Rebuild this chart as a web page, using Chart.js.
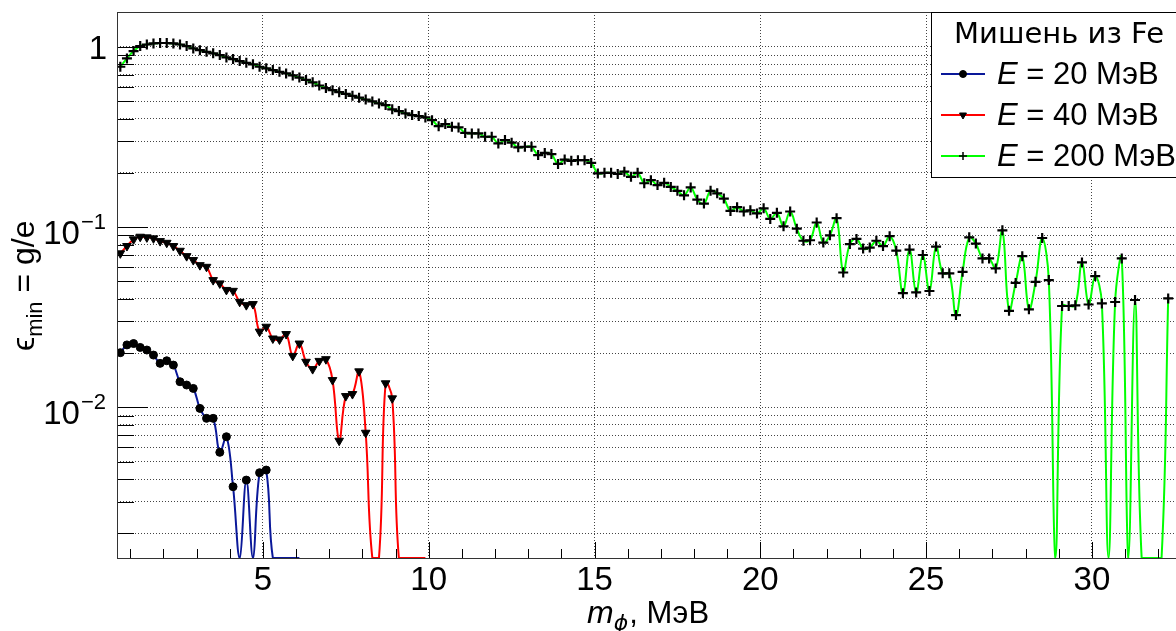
<!DOCTYPE html>
<html>
<head>
<meta charset="utf-8">
<script src="https://cdn.jsdelivr.net/npm/chart.js@4.4.1/dist/chart.umd.min.js"></script>
<style>
  html, body { margin: 0; padding: 0; background: #fff; overflow: hidden; }
  #chart { display: block; }
</style>
</head>
<body>
<canvas id="chart" width="1200" height="631"></canvas>
<script>
// mass grid, MeV (markers every 0.2 MeV)
const masses = [
  0.7, 0.9, 1.1, 1.3, 1.5, 1.7, 1.9, 2.1, 2.3, 2.5, 2.7, 2.9, 3.1, 3.3, 3.5, 3.7, 3.9, 4.1, 4.3, 4.5,
  4.7, 4.9, 5.1, 5.3, 5.5, 5.7, 5.9, 6.1, 6.3, 6.5, 6.7, 6.9, 7.1, 7.3, 7.5, 7.7, 7.9, 8.1, 8.3, 8.5,
  8.7, 8.9, 9.1, 9.3, 9.5, 9.7, 9.9, 10.1, 10.3, 10.5, 10.7, 10.9, 11.1, 11.3, 11.5, 11.7, 11.9, 12.1, 12.3, 12.5,
  12.7, 12.9, 13.1, 13.3, 13.5, 13.7, 13.9, 14.1, 14.3, 14.5, 14.7, 14.9, 15.1, 15.3, 15.5, 15.7, 15.9, 16.1, 16.3, 16.5,
  16.7, 16.9, 17.1, 17.3, 17.5, 17.7, 17.9, 18.1, 18.3, 18.5, 18.7, 18.9, 19.1, 19.3, 19.5, 19.7, 19.9, 20.1, 20.3, 20.5,
  20.7, 20.9, 21.1, 21.3, 21.5, 21.7, 21.9, 22.1, 22.3, 22.5, 22.7, 22.9, 23.1, 23.3, 23.5, 23.7, 23.9, 24.1, 24.3, 24.5,
  24.7, 24.9, 25.1, 25.3, 25.5, 25.7, 25.9, 26.1, 26.3, 26.5, 26.7, 26.9, 27.1, 27.3, 27.5, 27.7, 27.9, 28.1, 28.3, 28.5,
  28.7, 28.9, 29.1, 29.3, 29.5, 29.7, 29.9, 30.1, 30.3, 30.5, 30.7, 30.9, 31.1, 31.3, 31.5, 31.7, 31.9, 32.1, 32.3
];

// eps_min values, 0 = not positive (no marker, curve drops out of the frame)
const eps20 = [
  0.0201, 0.0222, 0.0226, 0.0215, 0.0208, 0.0195, 0.01754, 0.01813, 0.01716, 0.01387,
  0.0133, 0.01274, 0.00987, 0.00869, 0.00869, 0.00563, 0.00687, 0.00363, 0, 0.00395,
  0, 0.00434, 0.00449, 0, 0, 0, 0, 0
];
const eps40 = [
  0.0715, 0.0785, 0.0855, 0.0884, 0.0877, 0.0866, 0.0836, 0.0818, 0.0785, 0.0739,
  0.069, 0.0656, 0.0615, 0.0602, 0.0508, 0.0487, 0.0448, 0.0443, 0.0385, 0.0369,
  0.0374, 0.0263, 0.028, 0.0241, 0.0238, 0.0255, 0.0193, 0.0226, 0.0179, 0.0163,
  0.0181, 0.0185, 0.01417, 0.00653, 0.01155, 0.01185, 0.01584, 0.00723, 0, 0,
  0.0136, 0.01122, 0, 0, 0, 0, 0
];
const eps200 = [
  0.775, 0.862, 0.947, 1.01, 1.03, 1.044, 1.05, 1.05, 1.044, 1.03,
  1.01, 0.98, 0.958, 0.938, 0.92, 0.9, 0.873, 0.855, 0.833, 0.815,
  0.8, 0.775, 0.76, 0.743, 0.727, 0.712, 0.694, 0.675, 0.655, 0.635,
  0.61, 0.59, 0.575, 0.56, 0.548, 0.535, 0.522, 0.51, 0.498, 0.485,
  0.475, 0.45, 0.44, 0.427, 0.418, 0.413, 0.406, 0.392, 0.363, 0.373,
  0.36, 0.357, 0.333, 0.331, 0.331, 0.317, 0.317, 0.291, 0.304, 0.294,
  0.277, 0.279, 0.279, 0.251, 0.258, 0.254, 0.224, 0.237, 0.233, 0.235,
  0.235, 0.227, 0.1985, 0.2, 0.2, 0.197, 0.203, 0.19, 0.2, 0.175,
  0.182, 0.171, 0.176, 0.167, 0.159, 0.15, 0.166, 0.142, 0.135, 0.159,
  0.154, 0.144, 0.123, 0.129, 0.122, 0.124, 0.119, 0.127, 0.111, 0.12,
  0.101, 0.122, 0.098, 0.084, 0.0845, 0.106, 0.082, 0.09, 0.112, 0.056,
  0.0805, 0.086, 0.076, 0.077, 0.084, 0.0785, 0.089, 0.074, 0.043, 0.075,
  0.0434, 0.07, 0.0442, 0.078, 0.0554, 0.0554, 0.0325, 0.0565, 0.0877, 0.081,
  0.067, 0.067, 0.059, 0.096, 0.0343, 0.049, 0.069, 0.035, 0.0497, 0.087,
  0.0508, 0, 0.0365, 0.0365, 0.0368, 0.0637, 0.0372, 0.0535, 0.0377, 0,
  0.0384, 0.067, 0, 0.0394, 0, 0, 0, 0, 0.0402
];

const seriesNames = ['20 МэВ', '40 МэВ', '200 МэВ'];
const seriesColors = ['#0a1899', '#ff0000', '#00ff00'];
const seriesMarkers = ['circle', 'triangle', 'cross'];
const legendTitle = 'Мишень из Fe';

const xRange = [0.6, 33];
const yRange = [0.00146, 1.56];
const xMajorTicks = [5, 10, 15, 20, 25, 30];
const xMinorTicks = [1, 2, 3, 4, 6, 7, 8, 9, 11, 12, 13, 14, 16, 17, 18, 19, 21, 22, 23, 24, 26, 27, 28, 29, 31, 32];
const xTickLabels = ['5', '10', '15', '20', '25', '30'];
const yGridValues = [
  0.002, 0.003, 0.004, 0.005, 0.006, 0.007, 0.008, 0.009,
  0.01, 0.02, 0.03, 0.04, 0.05, 0.06, 0.07, 0.08, 0.09,
  0.1, 0.2, 0.3, 0.4, 0.5, 0.6, 0.7, 0.8, 0.9, 1
];
const yDecades = [1, 0.1, 0.01];
const yTickLabels = [['1', ''], ['10', '\u22121'], ['10', '\u22122']];

const markerRadius = [4, 5, 5];
const markerBorder = [1, 1, 2.2];

function makeSet(ys, i) {
  return {
    label: seriesNames[i],
    data: ys.map((v, k) => ({ x: masses[k], y: v > 0 ? v : yRange[0] })),
    borderColor: seriesColors[i],
    borderWidth: 2,
    tension: 0.4,
    fill: false,
    pointStyle: seriesMarkers[i],
    rotation: i === 1 ? 180 : 0,
    pointRadius: ctx => (ys[ctx.dataIndex] > 0 ? markerRadius[i] : 0),
    pointBackgroundColor: '#000',
    pointBorderColor: '#000',
    pointBorderWidth: markerBorder[i]
  };
}

const rootDecor = {
  id: 'rootDecor',
  afterDatasetsDraw(chart) {
    const { ctx, chartArea: a, scales: { x, y } } = chart;
    ctx.save();
    ctx.strokeStyle = '#000';
    ctx.lineWidth = 1;
    ctx.beginPath();
    xMinorTicks.forEach(v => {
      const px = Math.round(x.getPixelForValue(v)) + 0.5;
      ctx.moveTo(px, a.bottom); ctx.lineTo(px, a.bottom - 9);
    });
    xMajorTicks.forEach(v => {
      const px = Math.round(x.getPixelForValue(v)) + 0.5;
      ctx.moveTo(px, a.bottom); ctx.lineTo(px, a.bottom - 16);
    });
    yGridValues.forEach(v => {
      const py = Math.round(y.getPixelForValue(v)) + 0.5;
      const len = yDecades.includes(v) ? 31 : 17;
      ctx.moveTo(a.left, py); ctx.lineTo(a.left + len, py);
    });
    ctx.stroke();
    ctx.strokeStyle = '#333';
    ctx.strokeRect(a.left + 0.5, a.top + 0.5, a.right - a.left, a.bottom - a.top);
    ctx.restore();
  },
  afterDraw(chart) {
    const { ctx, scales: { x, y } } = chart;
    ctx.save();
    ctx.fillStyle = '#000';
    // x tick labels
    ctx.font = '33px "Liberation Sans"';
    ctx.textAlign = 'center';
    ctx.textBaseline = 'alphabetic';
    xMajorTicks.forEach((v, i) => ctx.fillText(xTickLabels[i], x.getPixelForValue(v), 590));
    // y tick labels
    yDecades.forEach((v, i) => {
      const py = y.getPixelForValue(v);
      const [base, sup] = yTickLabels[i];
      ctx.textAlign = 'right';
      if (!sup) {
        ctx.font = '33px "Liberation Sans"';
        ctx.fillText(base, 107, py + 12);
      } else {
        ctx.font = '22px "Liberation Sans"';
        ctx.fillText(sup, 106, py + 2);
        const w = ctx.measureText(sup).width;
        ctx.font = '33px "Liberation Sans"';
        ctx.fillText(base, 106 - w - 1, py + 17);
      }
    });
    // x title
    ctx.textAlign = 'left';
    let cx = 587;
    ctx.font = 'italic 32px "Liberation Sans"';
    ctx.fillText('m', cx, 623); cx += ctx.measureText('m').width;
    ctx.font = 'italic 22px "DejaVu Sans"';
    ctx.fillText('\u03d5', cx, 630); cx += ctx.measureText('\u03d5').width + 1;
    ctx.font = '31px "Liberation Sans"';
    ctx.fillText(', МэВ', cx, 623);
    // y title
    ctx.save();
    ctx.translate(34, 351);
    ctx.rotate(-Math.PI / 2);
    let cy = 0;
    ctx.font = '32px "Liberation Sans"';
    ctx.fillText('\u03f5', cy, 0); cy += ctx.measureText('\u03f5').width;
    ctx.font = '22px "Liberation Sans"';
    ctx.fillText('min', cy, 8); cy += ctx.measureText('min').width;
    ctx.font = '32px "Liberation Sans"';
    ctx.fillText(' = g/e', cy, 0);
    ctx.restore();
    // legend
    const lx = 931, ly = 12, lw = 300, lh = 165;
    ctx.fillStyle = '#fff';
    ctx.fillRect(lx, ly, lw, lh);
    ctx.strokeStyle = '#000';
    ctx.lineWidth = 1;
    ctx.strokeRect(lx + 0.5, ly + 0.5, lw, lh);
    ctx.fillStyle = '#000';
    ctx.font = '29px "DejaVu Sans"';
    ctx.textAlign = 'center';
    ctx.fillText(legendTitle, 1059, 43);
    chart.data.datasets.forEach((ds, i) => {
      const ry = 74 + i * 41;
      ctx.strokeStyle = seriesColors[i];
      ctx.lineWidth = 2;
      ctx.beginPath();
      ctx.moveTo(941, ry); ctx.lineTo(985, ry);
      ctx.stroke();
      ctx.fillStyle = '#000';
      ctx.strokeStyle = '#000';
      ctx.lineWidth = i === 2 ? 1.5 : 1;
      Chart.helpers.drawPoint(ctx, {
        pointStyle: seriesMarkers[i], rotation: i === 1 ? 180 : 0,
        radius: i === 0 ? 3.5 : 4, borderWidth: i === 2 ? 1.5 : 1
      }, 963, ry);
      ctx.textAlign = 'left';
      ctx.font = 'italic 31px "Liberation Sans"';
      ctx.fillText('E', 997, ry + 10);
      const ew = ctx.measureText('E').width;
      ctx.font = '31px "Liberation Sans"';
      ctx.fillText(' = ' + ds.label, 997 + ew, ry + 10);
    });
    ctx.restore();
  }
};

const chart = new Chart(document.getElementById('chart').getContext('2d'), {
  type: 'line',
  data: {
    datasets: [
      makeSet(eps20, 0),
      makeSet(eps40, 1),
      makeSet(eps200, 2)
    ]
  },
  options: {
    responsive: false,
    animation: false,
    devicePixelRatio: 1,
    layout: { padding: { left: 0, top: 12, right: 8.6, bottom: 0 } },
    plugins: { legend: { display: false }, tooltip: { enabled: false } },
    scales: {
      x: {
        type: 'linear',
        min: xRange[0],
        max: xRange[1],
        afterFit: s => { s.height = 73; },
        afterBuildTicks: s => { s.ticks = xMajorTicks.map(v => ({ value: v })); },
        ticks: { display: false },
        grid: { color: '#444', lineWidth: 1, drawTicks: false },
        border: { display: false, dash: [1, 2] }
      },
      y: {
        type: 'logarithmic',
        min: yRange[0],
        max: yRange[1],
        afterFit: s => { s.width = 117; },
        afterBuildTicks: s => { s.ticks = yGridValues.map(v => ({ value: v })); },
        ticks: { display: false },
        grid: { color: '#444', lineWidth: 1, drawTicks: false },
        border: { display: false, dash: [1, 2] }
      }
    }
  },
  plugins: [rootDecor]
});
</script>
</body>
</html>
